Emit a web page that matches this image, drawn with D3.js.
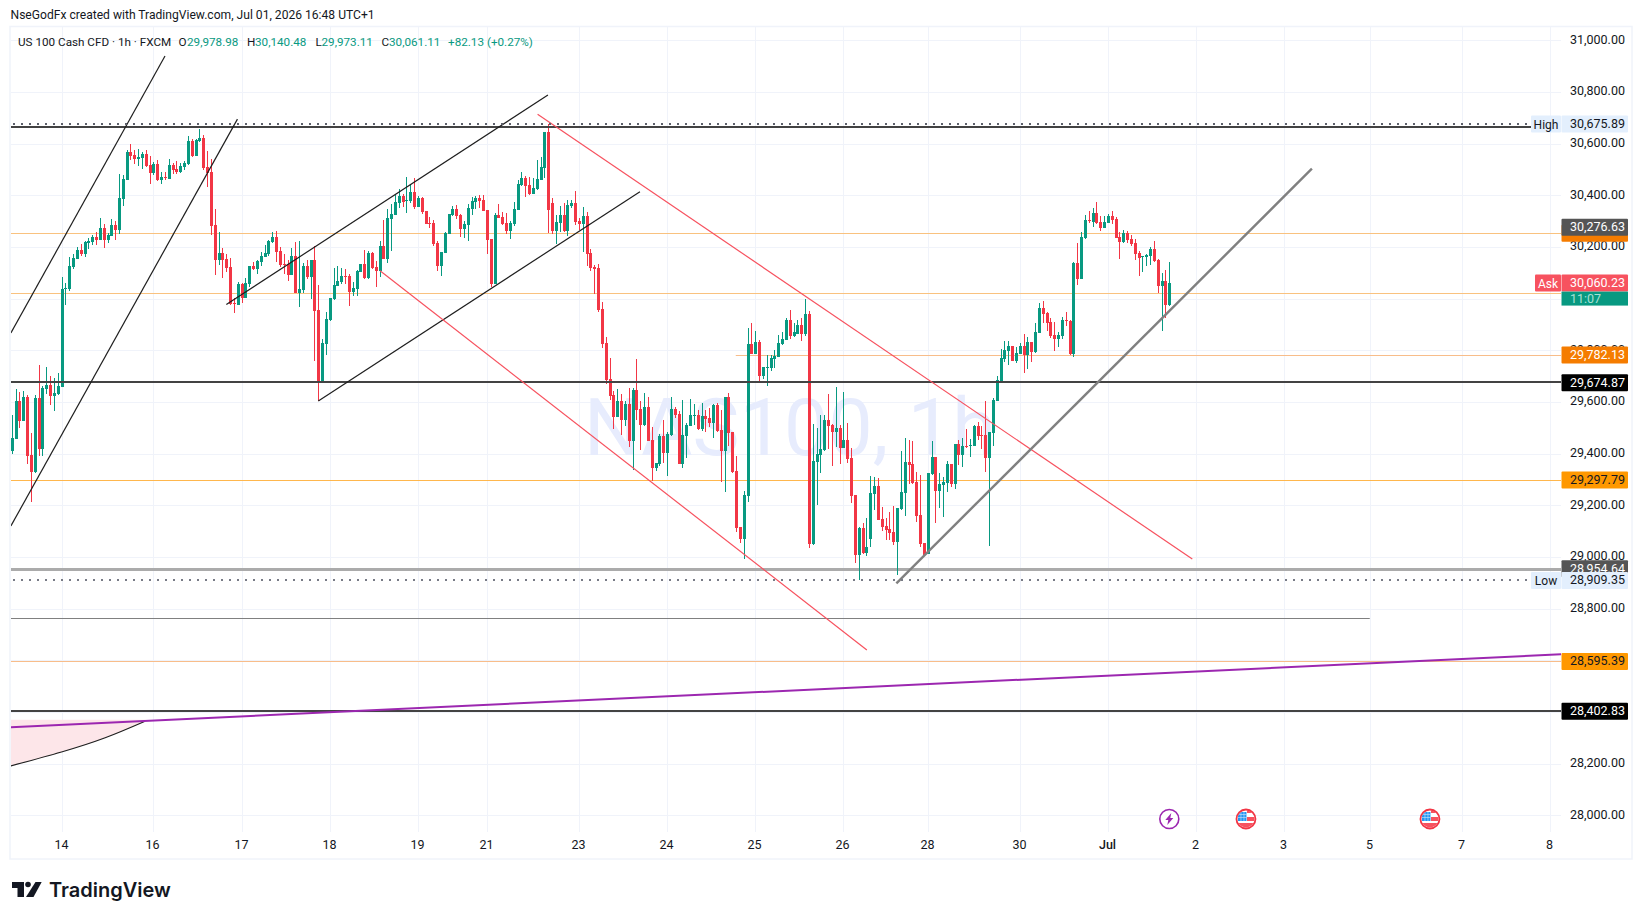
<!DOCTYPE html>
<html>
<head>
<meta charset="utf-8">
<title>US 100 Cash CFD</title>
<script src="https://cdn.jsdelivr.net/npm/d3@7"></script>
<style>
    html, body { margin: 0; padding: 0; background: #fff; }
    svg { display: block; }
    text { font-family: Roboto, sans-serif; }
</style>
</head>
<body>
<div id="chart"></div>
<script>
// candles, one hourly bar per index
var opens = [
    29412,29458,29604,29526,29619,29395,29329,29615,29418,29649,29666,29623,29630,29659,30037,30037,30122,30153,30188,30171,
    30215,30219,30239,30227,30273,30227,30244,30284,30266,30386,30459,30568,30556,30541,30544,30560,30517,30485,30521,30459,
    30471,30463,30517,30502,30489,30510,30521,30610,30552,30610,30622,30510,30490,30285,30150,30177,30153,30122,29983,29975,
    30057,30003,30057,30126,30115,30142,30161,30173,30219,30239,30184,30134,30134,30092,30165,30022,30033,30126,30084,30150,
    29956,29673,29824,29917,29999,30049,30064,30088,30088,30026,30037,30103,30134,30080,30177,30122,30107,30204,30153,30308,
    30324,30370,30397,30378,30378,30413,30355,30390,30339,30293,30293,30215,30126,30177,30250,30324,30347,30324,30270,30285,
    30347,30374,30390,30382,30343,30231,30057,30324,30316,30293,30262,30289,30343,30440,30467,30440,30405,30424,30459,30506,
    30645,30370,30262,30293,30324,30262,30359,30370,30300,30289,30320,30177,30122,30119,29960,29828,29689,29627,29542,29604,
    29530,29592,29449,29646,29573,29511,29581,29453,29344,29360,29468,29402,29472,29573,29553,29360,29468,29507,29546,29550,
    29495,29546,29538,29519,29588,29492,29410,29619,29484,29333,29116,29070,29236,29824,29786,29832,29701,29732,29732,29766,
    29774,29824,29840,29917,29855,29863,29898,29863,29941,29050,29368,29395,29414,29530,29511,29484,29499,29422,29453,29383,
    29240,29008,29112,29015,29070,29244,29275,29147,29120,29108,29097,29058,29186,29248,29368,29360,29290,29163,29054,29012,
    29321,29387,29255,29279,29286,29360,29282,29437,29395,29430,29430,29430,29507,29472,29472,29383,29480,29604,29681,29766,
    29797,29817,29759,29786,29817,29782,29832,29793,29867,29964,29944,29910,29859,29844,29855,29917,29913,29786,30138,30076,
    30235,30304,30297,30331,30297,30273,30293,30320,30308,30239,30219,30254,30231,30215,30177,30161,30161,30165,30192,30150,
    30049,30068,29975
];
var highs = [
    29550,29649,29640,29642,29627,29481,29627,29743,29663,29735,29700,29691,29712,30084,30062,30160,30173,30201,30211,30224,
    30233,30246,30258,30312,30289,30253,30308,30300,30482,30479,30575,30599,30575,30579,30568,30575,30552,30529,30537,30490,
    30490,30541,30525,30531,30525,30533,30630,30618,30618,30657,30633,30571,30541,30347,30258,30196,30173,30157,30003,30064,
    30061,30080,30126,30142,30150,30181,30208,30227,30258,30262,30200,30173,30150,30196,30219,30223,30138,30150,30150,30204,
    30053,29844,29948,30003,30119,30126,30119,30115,30095,30064,30111,30134,30188,30184,30181,30146,30223,30304,30347,30366,
    30401,30424,30405,30471,30440,30467,30397,30393,30339,30316,30304,30223,30181,30258,30328,30359,30362,30328,30300,30366,
    30393,30397,30401,30401,30343,30231,30331,30366,30335,30331,30300,30374,30459,30490,30475,30471,30467,30537,30548,30645,
    30676,30390,30324,30359,30370,30382,30382,30417,30312,30355,30335,30192,30130,30134,29987,29851,29770,29642,29650,29631,
    29604,29654,29654,29766,29604,29635,29619,29503,29364,29476,29530,29484,29619,29581,29565,29608,29519,29611,29592,29569,
    29596,29569,29577,29592,29596,29569,29619,29635,29484,29391,29116,29255,29886,29906,29875,29840,29735,29782,29782,29801,
    29859,29871,29925,29956,29906,29917,29925,29999,29952,29515,29499,29550,29550,29631,29515,29658,29511,29639,29519,29422,
    29240,29116,29132,29152,29313,29310,29306,29193,29151,29174,29197,29190,29410,29461,29453,29449,29329,29317,29054,29325,
    29449,29387,29325,29310,29371,29360,29437,29453,29460,29495,29457,29511,29522,29507,29604,29484,29615,29700,29805,29836,
    29836,29817,29813,29828,29863,29851,29832,29906,29983,29991,29948,29925,29910,29871,29929,29948,29917,30142,30215,30258,
    30324,30339,30351,30374,30320,30320,30328,30339,30316,30258,30266,30262,30246,30231,30184,30165,30173,30200,30223,30153,
    30099,30111,30140
];
var lows = [
    29399,29455,29498,29526,29359,29213,29324,29391,29391,29631,29587,29565,29626,29659,29975,30030,30115,30153,30165,30161,
    30192,30208,30209,30227,30196,30215,30242,30227,30250,30359,30459,30537,30521,30513,30502,30510,30444,30479,30455,30444,
    30459,30463,30482,30482,30486,30498,30517,30548,30552,30606,30498,30432,30246,30092,30130,30080,30103,29975,29944,29975,
    29983,30003,30045,30111,30095,30126,30161,30165,30215,30142,30122,30095,30068,30092,30022,29968,30022,30076,29999,29759,
    29604,29673,29782,29913,29995,30049,30057,30057,29971,30010,30010,30103,30076,30076,30115,30045,30084,30153,30138,30184,
    30324,30351,30355,30331,30370,30347,30355,30328,30289,30273,30204,30107,30088,30177,30250,30320,30308,30239,30235,30223,
    30324,30347,30351,30339,30173,30045,30057,30312,30285,30250,30231,30281,30343,30436,30393,30401,30405,30420,30459,30467,
    30254,30250,30211,30258,30258,30242,30351,30285,30266,30181,30126,30107,30018,29948,29809,29670,29608,29495,29542,29472,
    29507,29426,29337,29530,29414,29507,29449,29294,29333,29352,29364,29313,29468,29538,29360,29344,29383,29507,29511,29491,
    29488,29484,29503,29461,29484,29290,29252,29430,29325,29097,29054,28992,29213,29786,29786,29677,29689,29662,29720,29732,
    29774,29821,29840,29844,29852,29863,29836,29855,29035,29046,29201,29325,29410,29418,29352,29426,29360,29422,29364,29209,
    28977,28911,29012,29004,29039,29182,29143,29101,29066,29066,29046,28930,29182,29159,29283,29283,29135,29039,29008,29012,
    29317,29132,29190,29155,29251,29271,29263,29356,29348,29422,29387,29430,29453,29418,29329,29042,29430,29604,29681,29755,
    29743,29759,29751,29786,29712,29728,29755,29789,29867,29906,29875,29848,29797,29813,29844,29894,29782,29774,30053,30076,
    30231,30293,30277,30289,30262,30273,30293,30289,30235,30153,30215,30215,30204,30150,30088,30103,30126,30130,30142,30022,
    29875,29925,29973
];
var closes = [
    29459,29604,29528,29619,29392,29329,29615,29418,29655,29666,29623,29635,29662,30037,30040,30126,30157,30188,30171,30219,
    30223,30239,30228,30273,30227,30245,30284,30266,30390,30463,30568,30552,30541,30548,30560,30513,30486,30521,30459,30471,
    30467,30517,30498,30490,30513,30525,30610,30552,30614,30622,30506,30486,30281,30150,30177,30150,30119,29979,29979,30057,
    30003,30061,30126,30115,30146,30165,30177,30223,30239,30181,30130,30130,30092,30165,30022,30037,30126,30084,30150,29952,
    29673,29828,29921,30003,30053,30067,30088,30084,30026,30041,30107,30134,30080,30177,30119,30107,30204,30153,30312,30328,
    30374,30397,30374,30382,30413,30355,30390,30335,30289,30289,30211,30126,30181,30254,30328,30347,30320,30270,30289,30351,
    30378,30390,30378,30339,30227,30057,30324,30312,30289,30262,30293,30347,30444,30467,30436,30405,30428,30463,30510,30645,
    30343,30262,30297,30324,30262,30362,30370,30297,30289,30320,30173,30119,30115,29956,29824,29685,29623,29542,29604,29530,
    29592,29449,29646,29569,29511,29581,29449,29344,29364,29468,29402,29476,29573,29550,29360,29472,29511,29550,29550,29495,
    29546,29534,29519,29588,29488,29410,29619,29480,29329,29112,29070,29240,29824,29786,29832,29701,29735,29735,29770,29778,
    29828,29844,29917,29855,29871,29898,29863,29941,29050,29372,29399,29418,29530,29507,29484,29499,29422,29453,29379,29236,
    29008,29112,29015,29039,29248,29275,29143,29116,29104,29093,29058,29190,29252,29368,29356,29286,29159,29050,29008,29325,
    29387,29255,29282,29290,29360,29282,29437,29395,29430,29426,29433,29507,29468,29468,29383,29484,29608,29685,29770,29801,
    29817,29759,29790,29817,29782,29832,29793,29871,29964,29940,29906,29855,29844,29859,29917,29913,29786,30138,30076,30239,
    30304,30300,30331,30293,30273,30297,30320,30304,30235,30219,30254,30227,30211,30173,30157,30165,30169,30192,30146,30049,
    30068,29975,30061
];

// day marks on the time axis and the bar they sit on
var dayLabels = ['14','16','17','18','19','21','23','24','25','26','28','30','Jul','2','3','5','7','8'];
var dayBars = [13,37,60,83,106,124,148,171,194,217,239,263,286,309,332,354.3,378.3,401.3];

var priceTicks = d3.range(28000, 31001, 200);

// drawn objects: [bar, price, bar, price]
var blackLines = [
    [-0.2,29867,40,30939],
    [-0.2,29120,58.9,30695],
    [56,29977,139.9,30788],
    [80,29604,163.9,30414]
];
var redLines = [
    [137.2,30714,308,28992],
    [96.1,30108,223.1,28640]
];
var greyLine = [230.8,28898,339.2,30503];
var purpleLine = [-0.3,28341,404.2,28623];
var curveBars = [-0.3,13,24.4,34.8];
var curvePrices = [28191,28245,28300,28364];
var curveTop = 28370;

var heavyLevels = [30665,29674.87,28402.83];
var orangeLevels = [30253,30020,29297.79];
var orangeStarts = [-1,-1,-1];
var paleLevels = [29782.13,28595.39];
var paleStarts = [188.9,-1];
var supportLevel = 28954.64;
var shelfLevel = 28762;
var shelfEnd = 354.3;
var highLevel = 30675.89;
var lowLevel = 28909.35;

var flagBars = [322,370];
var boltBar = 302;

(function () {
    'use strict';

    var width = 1643,
        height = 920,
        paneLeft = 11,
        paneRight = 1561,
        paneTop = 27,
        paneBottom = 832,
        tagRight = 1628,
        axisTextX = 1570,
        upColor = '#089981',
        downColor = '#f23645',
        textColor = '#131722';

    var x = d3.scaleLinear().domain([0, 302]).range([11.67, 1169.3]);
    var y = d3.scaleLinear().domain([28000, 31000]).range([815.3, 40.3]);

    var svg = d3.select('#chart').append('svg')
        .attr('width', width)
        .attr('height', height);

    svg.append('defs').append('clipPath')
        .attr('id', 'pane')
        .append('rect')
        .attr('x', paneLeft)
        .attr('y', paneTop)
        .attr('width', paneRight - paneLeft)
        .attr('height', paneBottom - paneTop);

    // frame and header
    svg.append('rect')
        .attr('x', 10)
        .attr('y', 26.5)
        .attr('width', 1622)
        .attr('height', 832.5)
        .attr('fill', 'none')
        .attr('stroke', '#f0f3fa')
        .attr('stroke-width', 1.5);

    svg.append('text')
        .attr('x', 10.5)
        .attr('y', 19)
        .attr('font-size', 12.1)
        .attr('fill', textColor)
        .text('NseGodFx created with TradingView.com, Jul 01, 2026 16:48 UTC+1');

    // grid
    svg.append('g').selectAll('line')
        .data(priceTicks)
        .enter()
        .append('line')
        .attr('x1', paneLeft)
        .attr('x2', paneRight)
        .attr('y1', function (d) { return Math.round(y(d)) + 0.5; })
        .attr('y2', function (d) { return Math.round(y(d)) + 0.5; })
        .attr('stroke', '#f0f3fa');

    svg.append('g').selectAll('line')
        .data(dayBars)
        .enter()
        .append('line')
        .attr('x1', function (d) { return Math.round(x(d)) + 0.5; })
        .attr('x2', function (d) { return Math.round(x(d)) + 0.5; })
        .attr('y1', paneTop)
        .attr('y2', paneBottom)
        .attr('stroke', '#f0f3fa');

    // watermark
    svg.append('text')
        .attr('x', 584)
        .attr('y', 455)
        .attr('font-size', 79)
        .attr('fill', '#e7ecfd')
        .text('NAS100, 1h');

    var pane = svg.append('g').attr('clip-path', 'url(#pane)');

    // pink patch under the curve
    var curveData = d3.zip(curveBars, curvePrices);

    pane.append('path')
        .attr('d', d3.area()
            .x(function (d) { return x(d[0]); })
            .y0(y(curveTop))
            .y1(function (d) { return y(d[1]); })
            .curve(d3.curveNatural)(curveData))
        .attr('fill', '#fde6e9');

    pane.append('path')
        .attr('d', d3.line()
            .x(function (d) { return x(d[0]); })
            .y(function (d) { return y(d[1]); })
            .curve(d3.curveNatural)(curveData))
        .attr('fill', 'none')
        .attr('stroke', '#1e1e1e')
        .attr('stroke-width', 1.1);

    // horizontal levels
    function hLine(level, start, end, color, w) {
        var row = w % 2 === 0 ? Math.round(y(level) - 0.2) : Math.round(y(level)) + 0.5;
        pane.append('line')
            .attr('x1', x(start))
            .attr('x2', end)
            .attr('y1', row)
            .attr('y2', row)
            .attr('stroke', color)
            .attr('stroke-width', w);
    }

    orangeLevels.forEach(function (d, i) {
        hLine(d, orangeStarts[i], paneRight, i === 2 ? '#ffb74d' : '#f9c27f', 1);
    });
    paleLevels.forEach(function (d, i) {
        hLine(d, paleStarts[i], paneRight, '#f8bd8a', 1);
    });
    hLine(supportLevel, -1, paneRight, '#ababab', 3);
    hLine(shelfLevel, -1, x(shelfEnd), '#808080', 1);

    // candles
    var bars = d3.range(opens.length);

    pane.append('g').selectAll('rect')
        .data(bars)
        .enter()
        .append('rect')
        .attr('x', function (d) { return Math.round(x(d)); })
        .attr('y', function (d) { return Math.round(y(highs[d])); })
        .attr('width', 1)
        .attr('height', function (d) { return Math.max(1, Math.round(y(lows[d])) - Math.round(y(highs[d]))); })
        .attr('fill', function (d) { return closes[d] >= opens[d] ? upColor : downColor; });

    pane.append('g').selectAll('rect')
        .data(bars)
        .enter()
        .append('rect')
        .attr('x', function (d) { return Math.round(x(d)) - 1; })
        .attr('y', function (d) { return Math.round(y(Math.max(opens[d], closes[d]))); })
        .attr('width', 3)
        .attr('height', function (d) {
            return Math.max(1, Math.round(y(Math.min(opens[d], closes[d]))) - Math.round(y(Math.max(opens[d], closes[d]))));
        })
        .attr('fill', function (d) { return closes[d] >= opens[d] ? upColor : downColor; });

    heavyLevels.forEach(function (d) {
        hLine(d, -1, paneRight, '#434343', 2);
    });

    // dotted high and low
    function dotted(level, end, color) {
        svg.append('line')
            .attr('x1', paneLeft + 2)
            .attr('x2', end)
            .attr('y1', Math.round(y(level)))
            .attr('y2', Math.round(y(level)))
            .attr('stroke', color)
            .attr('stroke-width', 2)
            .attr('stroke-dasharray', '2 6');
    }
    dotted(highLevel, 1528, '#5d606b');
    dotted(lowLevel, 1528, '#787b86');

    // trend lines
    function segment(d, color, w) {
        pane.append('line')
            .attr('x1', x(d[0]))
            .attr('y1', y(d[1]))
            .attr('x2', x(d[2]))
            .attr('y2', y(d[3]))
            .attr('stroke', color)
            .attr('stroke-width', w);
    }

    blackLines.forEach(function (d) { segment(d, '#1e1e1e', 1.2); });
    redLines.forEach(function (d) { segment(d, '#f7525f', 1.2); });
    segment(greyLine, '#808080', 2.4);
    segment(purpleLine, '#9c27b0', 2);

    // event icons
    var iconY = 819;

    svg.append('circle')
        .attr('cx', x(boltBar))
        .attr('cy', iconY)
        .attr('r', 9.5)
        .attr('fill', '#fff')
        .attr('stroke', '#9c27b0')
        .attr('stroke-width', 1.6);
    svg.append('path')
        .attr('transform', 'translate(' + x(boltBar) + ',' + iconY + ')')
        .attr('d', 'M2,-6 L-4,1 L-1,1 L-2,6 L4,-1 L1,-1 Z')
        .attr('fill', '#9c27b0');

    flagBars.forEach(function (d, i) {
        var g = svg.append('g')
            .attr('transform', 'translate(' + x(d) + ',' + iconY + ')');
        g.append('clipPath')
            .attr('id', 'flag' + i)
            .append('circle')
            .attr('r', 8.5);
        var f = g.append('g').attr('clip-path', 'url(#flag' + i + ')');
        f.append('rect').attr('x', -10).attr('y', -10).attr('width', 20).attr('height', 20).attr('fill', '#fff');
        f.append('rect').attr('x', 1).attr('y', -2).attr('width', 8).attr('height', 4).attr('fill', '#f7525f');
        f.append('rect').attr('x', -9).attr('y', 4).attr('width', 18).attr('height', 6).attr('fill', '#f7525f');
        f.append('rect').attr('x', 1).attr('y', -9).attr('width', 8).attr('height', 3).attr('fill', '#f7525f');
        f.append('rect').attr('x', -8).attr('y', -7).attr('width', 8.5).attr('height', 9).attr('fill', '#2196f3');
        [-4.5, -1.5].forEach(function (row) {
            f.append('line').attr('x1', -8).attr('x2', 0.5).attr('y1', row).attr('y2', row)
                .attr('stroke', '#cfe6fb').attr('stroke-width', 0.6);
        });
        [-5, -2].forEach(function (col) {
            f.append('line').attr('x1', col).attr('x2', col).attr('y1', -7).attr('y2', 2)
                .attr('stroke', '#cfe6fb').attr('stroke-width', 0.6);
        });
        g.append('circle')
            .attr('r', 9.5)
            .attr('fill', 'none')
            .attr('stroke', '#f23645')
            .attr('stroke-width', 1.8);
    });

    // axes text, through the axis generators
    var priceAxis = d3.axisRight(y)
        .tickValues(priceTicks)
        .tickSize(0)
        .tickPadding(0)
        .tickFormat(d3.format(',.2f'));

    var priceAxisG = svg.append('g')
        .attr('transform', 'translate(' + axisTextX + ',-1)')
        .call(priceAxis);
    priceAxisG.select('.domain').remove();
    priceAxisG.selectAll('text')
        .attr('font-size', 12.5)
        .attr('fill', textColor)
        .style('font-family', 'Roboto, sans-serif');

    var timeScale = d3.scalePoint().domain(dayLabels);
    var timeAxisG = svg.append('g')
        .attr('transform', 'translate(0,835)')
        .call(d3.axisBottom(timeScale).tickSize(0).tickPadding(5));
    timeAxisG.select('.domain').remove();
    timeAxisG.selectAll('.tick')
        .attr('transform', function (d, i) { return 'translate(' + (Math.round(x(dayBars[i])) - 0.5) + ',0)'; });
    timeAxisG.selectAll('text')
        .attr('font-size', 12.5)
        .attr('fill', textColor)
        .attr('font-weight', function (d) { return d === 'Jul' ? 500 : 400; })
        .style('font-family', 'Roboto, sans-serif');

    // price tags on the axis
    var tagValues = [30276.63,30253,30060.23,29782.13,29674.87,29297.79,28954.64,28909.35,28595.39,28402.83,30675.89];
    var tagLabels = ['30,276.63','','30,060.23','29,782.13','29,674.87','29,297.79','28,954.64','28,909.35','28,595.39','28,402.83','30,675.89'];
    var tagFills = ['#555555','#f57c00','#f7525f','#f57c00','#000000','#ff9800','#555555','#e3effd','#ff9800','#000000','#e3effd'];
    var tagInks = ['#ffffff','#ffffff','#ffffff','#ffffff','#ffffff','#131722','#ffffff','#131722','#131722','#ffffff','#131722'];
    var tagOrder = [1,0,3,4,5,6,7,8,9,10,2];

    tagOrder.forEach(function (i) {
        var cy = y(tagValues[i]);
        svg.append('rect')
            .attr('x', paneRight + 0.5)
            .attr('y', cy - 8.5)
            .attr('width', tagRight - paneRight - 0.5)
            .attr('height', 17)
            .attr('rx', 1)
            .attr('fill', tagFills[i]);
        svg.append('text')
            .attr('x', axisTextX)
            .attr('y', cy + 4)
            .attr('font-size', 12.5)
            .attr('fill', tagInks[i])
            .text(tagLabels[i]);
    });

    // countdown under the ask tag
    svg.append('rect')
        .attr('x', paneRight + 0.5)
        .attr('y', y(30060.23) + 8.5)
        .attr('width', tagRight - paneRight - 0.5)
        .attr('height', 14)
        .attr('fill', upColor);
    svg.append('text')
        .attr('x', axisTextX)
        .attr('y', y(30060.23) + 19.5)
        .attr('font-size', 12.5)
        .attr('fill', '#a8e0d4')
        .text('11:07');

    // name tags left of the axis
    function sideTag(level, name, fill, ink, w) {
        svg.append('rect')
            .attr('x', paneRight - w)
            .attr('y', y(level) - 8.5)
            .attr('width', w)
            .attr('height', 17)
            .attr('rx', 1)
            .attr('fill', fill);
        svg.append('text')
            .attr('x', paneRight - w / 2)
            .attr('y', y(level) + 4.5)
            .attr('text-anchor', 'middle')
            .attr('font-size', 12)
            .attr('fill', ink)
            .text(name);
    }
    sideTag(highLevel, 'High', '#e3effd', '#131722', 30);
    sideTag(30060.23, 'Ask', '#f7525f', '#ffffff', 26);
    sideTag(lowLevel, 'Low', '#e3effd', '#131722', 30);

    // legend line
    var legendTexts = ['US 100 Cash CFD · 1h · FXCM','O','29,978.98','H','30,140.48','L','29,973.11','C','30,061.11','+82.13 (+0.27%)'];
    var legendX = [18,178.5,187,247,255,315.5,321.5,381.5,389,448];

    svg.append('g').selectAll('text')
        .data(legendTexts)
        .enter()
        .append('text')
        .attr('x', function (d, i) { return legendX[i]; })
        .attr('y', 46)
        .attr('font-size', 11.7)
        .attr('fill', function (d, i) {
            return (i === 0 || i % 2 === 1) && i < 9 ? textColor : upColor;
        })
        .text(function (d) { return d; });

    // logo
    var logo = svg.append('g').attr('fill', '#131722');
    logo.append('path').attr('d', 'M12,882 H24 V897 H17.5 V888 H12 Z');
    logo.append('circle').attr('cx', 28).attr('cy', 884.5).attr('r', 2.8);
    logo.append('path').attr('d', 'M35.5,882 H41.7 L33.5,897 H26 Z');
    svg.append('text')
        .attr('x', 49)
        .attr('y', 897)
        .attr('font-size', 20)
        .attr('font-weight', 600)
        .attr('fill', '#131722')
        .style('font-family', 'Inter, sans-serif')
        .text('TradingView');
})();
</script>
</body>
</html>
